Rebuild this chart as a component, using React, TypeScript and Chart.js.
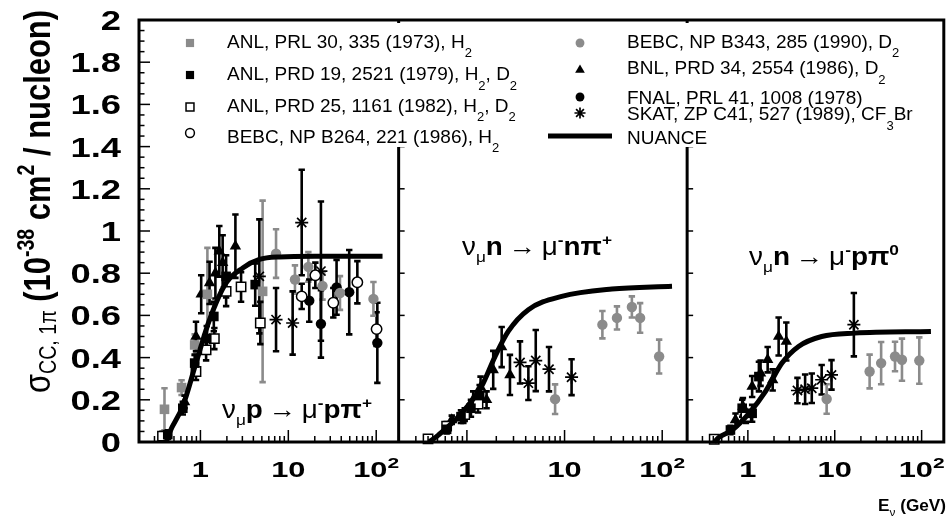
import React, { useEffect, useRef } from 'react';
import { Chart, registerables } from 'chart.js';
import { drawPoint } from 'chart.js/helpers';

Chart.register(...registerables);

const FONT = '"Liberation Sans", Arial, "DejaVu Sans", sans-serif';
const GRAY = '#8b8b8b';

// ---- axes ----
const X_MIN = 0.2;
const X_MAX = 180;
const PANEL_WEIGHTS = [261, 290, 258];
const Y_MIN = 0;
const Y_MAX = 2;
const Y_TICK_VALUES = [0, 0.2, 0.4, 0.6, 0.8, 1, 1.2, 1.4, 1.6, 1.8, 2];
const Y_TICK_LABELS = ['0', '0.2', '0.4', '0.6', '0.8', '1', '1.2', '1.4', '1.6', '1.8', '2'];
const X_TICK_VALUES = [1, 10, 100];
const X_TICK_BASES = ['1', '10', '10'];
const X_TICK_EXPS = ['', '', '2'];

// ---- data: [E_nu (GeV), sigma (1e-38 cm2/nucleon), error] ----
type Pt = [number, number, number];
type Cv = [number, number];

// Panel 1: nu_mu p -> mu- p pi+
const P1_ANL73: Pt[] = [[0.39, 0.155, 0.1], [0.61, 0.258, 0.035], [0.86, 0.46, 0.05], [1.2, 0.7, 0.22], [5.1, 0.714, 0.43]];
const P1_ANL79: Pt[] = [[0.425, 0.035, 0.02], [0.63, 0.16, 0.03], [0.86, 0.374, 0.04], [1.18, 0.49, 0.06], [1.42, 0.595, 0.07], [1.96, 0.785, 0.1], [4.2, 0.746, 0.1]];
const P1_ANL82: Pt[] = [[0.37, 0.028, 0.02], [0.89, 0.334, 0.04], [1.16, 0.437, 0.05], [1.44, 0.49, 0.05], [1.96, 0.714, 0.07], [2.9, 0.735, 0.07], [4.8, 0.564, 0.1]];
const P1_BEBC86: Pt[] = [[14.2, 0.69, 0.06], [20.3, 0.79, 0.06], [32.5, 0.66, 0.07], [61, 0.757, 0.1], [101, 0.535, 0.08]];
const P1_BEBC90: Pt[] = [[7.25, 0.893, 0.115], [11.9, 0.77, 0.067], [16.9, 0.83, 0.07], [24.5, 0.74, 0.065], [38.7, 0.706, 0.08], [93, 0.678, 0.08]];
const P1_BNL: Pt[] = [[0.66, 0.19, 0.03], [0.89, 0.5, 0.07], [1.02, 0.7, 0.09], [1.27, 0.754, 0.1], [1.48, 0.8, 0.12], [1.64, 0.904, 0.12], [1.79, 0.85, 0.13], [2.5, 0.928, 0.15]];
const P1_FNAL: Pt[] = [[17.3, 0.67, 0.1], [23.5, 0.56, 0.16], [35.4, 0.733, 0.13], [49.3, 0.71, 0.2], [103, 0.47, 0.19]];
const P1_SKAT: Pt[] = [[4.68, 0.785, 0.27], [7.25, 0.58, 0.15], [11.2, 0.564, 0.15], [14.2, 1.04, 0.25], [23.5, 0.81, 0.33]];
const P1_NUANCE: Cv[] = [[0.41, 0], [0.44, 0.04], [0.63, 0.17], [0.89, 0.374], [1.27, 0.58], [1.96, 0.754], [3.03, 0.825], [4.68, 0.865], [7.9, 0.877], [20, 0.88], [118, 0.88]];

// Panel 2: nu_mu n -> mu- n pi+
const P2_ANL79: Pt[] = [[0.62, 0.06, 0.02], [0.87, 0.12, 0.03], [1.1, 0.16, 0.04], [1.35, 0.22, 0.05]];
const P2_ANL82: Pt[] = [[0.4, 0.015, 0.015], [0.62, 0.075, 0.02], [0.95, 0.13, 0.03], [1.3, 0.18, 0.04]];
const P2_BNL: Pt[] = [[0.7, 0.105, 0.02], [0.92, 0.12, 0.03], [1.16, 0.2, 0.04], [1.38, 0.26, 0.05], [1.59, 0.2, 0.04], [1.86, 0.342, 0.09], [2.27, 0.45, 0.095], [2.76, 0.318, 0.095]];
const P2_BEBC90: Pt[] = [[8.0, 0.203, 0.07], [24.4, 0.556, 0.065], [34.4, 0.588, 0.055], [48.9, 0.64, 0.05], [59.4, 0.588, 0.07], [93, 0.405, 0.08]];
const P2_SKAT: Pt[] = [[3.5, 0.377, 0.1], [4.26, 0.279, 0.08], [5.07, 0.386, 0.145], [6.93, 0.345, 0.105], [11.8, 0.307, 0.085]];
const P2_NUANCE: Cv[] = [[0.41, 0], [0.51, 0.033], [0.88, 0.136], [1.41, 0.263], [1.94, 0.405], [2.65, 0.524], [4.26, 0.627], [9.35, 0.69], [30.5, 0.725], [126, 0.738]];

// Panel 3: nu_mu n -> mu- p pi0
const P3_ANL79: Pt[] = [[0.63, 0.057, 0.02], [0.86, 0.16, 0.04], [1.12, 0.136, 0.04], [1.34, 0.31, 0.07]];
const P3_ANL82: Pt[] = [[0.41, 0.013, 0.01], [0.95, 0.12, 0.03]];
const P3_BNL: Pt[] = [[0.72, 0.105, 0.03], [0.877, 0.168, 0.04], [1.12, 0.263, 0.05], [1.4, 0.326, 0.06], [1.69, 0.39, 0.06], [1.93, 0.294, 0.05], [2.26, 0.5, 0.09], [2.77, 0.476, 0.09]];
const P3_BEBC90: Pt[] = [[8.07, 0.204, 0.07], [25.2, 0.334, 0.08], [34.2, 0.374, 0.1], [49.4, 0.405, 0.07], [59.4, 0.39, 0.1], [94, 0.386, 0.11]];
const P3_SKAT: Pt[] = [[3.72, 0.244, 0.06], [4.56, 0.25, 0.07], [5.44, 0.255, 0.07], [7.07, 0.295, 0.07], [9.18, 0.318, 0.07], [16.6, 0.556, 0.15]];
const P3_NUANCE: Cv[] = [[0.41, 0], [0.466, 0.022], [0.66, 0.057], [1.03, 0.136], [1.59, 0.239], [2.47, 0.374], [3.83, 0.453], [7.07, 0.5], [17, 0.516], [128, 0.524]];

// ---- series styles & legend ----
type Style = { key: string; label: string; pointStyle: string; radius: number; fill: string; stroke: string; width: number; err: string };
const SERIES: Style[] = [
  { key: 'ANL73', label: 'ANL, PRL 30, 335 (1973), H_{2}', pointStyle: 'rect', radius: 6.8, fill: GRAY, stroke: GRAY, width: 0, err: GRAY },
  { key: 'ANL79', label: 'ANL, PRD 19, 2521 (1979), H_{2}, D_{2}', pointStyle: 'rect', radius: 6.8, fill: '#000', stroke: '#000', width: 0, err: '#000' },
  { key: 'ANL82', label: 'ANL, PRD 25, 1161 (1982), H_{2}, D_{2}', pointStyle: 'rect', radius: 6.6, fill: '#fff', stroke: '#000', width: 1.5, err: '#000' },
  { key: 'BEBC86', label: 'BEBC, NP B264, 221 (1986), H_{2}', pointStyle: 'circle', radius: 5.2, fill: '#fff', stroke: '#000', width: 1.5, err: '#000' },
  { key: 'BEBC90', label: 'BEBC, NP B343, 285 (1990), D_{2}', pointStyle: 'circle', radius: 5.2, fill: GRAY, stroke: GRAY, width: 0, err: GRAY },
  { key: 'BNL', label: 'BNL, PRD 34, 2554 (1986), D_{2}', pointStyle: 'triangle', radius: 6.6, fill: '#000', stroke: '#000', width: 0, err: '#000' },
  { key: 'FNAL', label: 'FNAL, PRL 41, 1008 (1978)', pointStyle: 'circle', radius: 5.2, fill: '#000', stroke: '#000', width: 0, err: '#000' },
  { key: 'SKAT', label: 'SKAT, ZP C41, 527 (1989), CF_{3}Br', pointStyle: 'star', radius: 6.5, fill: '#000', stroke: '#000', width: 1.7, err: '#000' },
];
const NUANCE_LABEL = 'NUANCE';

const PANEL_DATA: Record<string, Pt[]>[] = [
  { ANL73: P1_ANL73, ANL79: P1_ANL79, ANL82: P1_ANL82, BEBC86: P1_BEBC86, BEBC90: P1_BEBC90, BNL: P1_BNL, FNAL: P1_FNAL, SKAT: P1_SKAT },
  { ANL79: P2_ANL79, ANL82: P2_ANL82, BNL: P2_BNL, BEBC90: P2_BEBC90, SKAT: P2_SKAT },
  { ANL79: P3_ANL79, ANL82: P3_ANL82, BNL: P3_BNL, BEBC90: P3_BEBC90, SKAT: P3_SKAT },
];
const PANEL_CURVES: Cv[][] = [P1_NUANCE, P2_NUANCE, P3_NUANCE];
const REACTIONS = [
  { target: 'p', final: 'p', pion: '+' },
  { target: 'n', final: 'n', pion: '+' },
  { target: 'n', final: 'p', pion: '0' },
];

// ---- rich text helpers ----
interface Seg { t: string; size: number; bold?: boolean; dy?: number }
const segFont = (s: Seg) => `${s.bold ? 'bold ' : ''}${s.size}px ${FONT}`;
function measure(ctx: CanvasRenderingContext2D, segs: Seg[]) {
  let w = 0;
  for (const s of segs) { ctx.font = segFont(s); w += ctx.measureText(s.t).width; }
  return w;
}
function drawRich(ctx: CanvasRenderingContext2D, segs: Seg[], x: number, y: number,
  opt: { align?: 'left' | 'center' | 'right'; along?: number; across?: number; width?: number; rotate?: boolean } = {}) {
  ctx.save();
  const nat = measure(ctx, segs);
  ctx.translate(x, y);
  if (opt.rotate) ctx.rotate(-Math.PI / 2);
  const along = opt.width ? opt.width / nat : (opt.along ?? 1);
  ctx.scale(along, opt.across ?? 1);
  let cx = opt.align === 'right' ? -nat : opt.align === 'center' ? -nat / 2 : 0;
  ctx.fillStyle = '#000';
  ctx.textBaseline = 'alphabetic';
  ctx.textAlign = 'left';
  for (const s of segs) {
    ctx.font = segFont(s);
    ctx.fillText(s.t, cx, s.dy ?? 0);
    cx += ctx.measureText(s.t).width;
  }
  ctx.restore();
}
function parseLabel(str: string, size: number, subSize: number, subDy: number): Seg[] {
  const out: Seg[] = [];
  let i = 0, buf = '';
  while (i < str.length) {
    if (str.startsWith('_{', i)) {
      if (buf) { out.push({ t: buf, size }); buf = ''; }
      const j = str.indexOf('}', i);
      out.push({ t: str.slice(i + 2, j), size: subSize, dy: subDy });
      i = j + 1;
    } else { buf += str[i]; i++; }
  }
  if (buf) out.push({ t: buf, size });
  return out;
}

// ---- decoration plugin ----
const decor = {
  id: 'decor',
  beforeDatasetsDraw(chart: any) {
    const ctx: CanvasRenderingContext2D = chart.ctx;
    const ys = chart.scales.y;
    chart.data.datasets.forEach((ds: any) => {
      if (!ds.errors) return;
      const xs = chart.scales[ds.xAxisID];
      ctx.save();
      ctx.strokeStyle = ds.errColor;
      ctx.lineWidth = 2.6;
      ds.data.forEach((p: any, j: number) => {
        const e = ds.errors[j];
        const px = xs.getPixelForValue(p.x);
        const t = ys.getPixelForValue(p.y + e);
        const b = ys.getPixelForValue(Math.max(0, p.y - e));
        ctx.beginPath();
        ctx.moveTo(px, t); ctx.lineTo(px, b);
        ctx.moveTo(px - 3.2, t); ctx.lineTo(px + 3.2, t);
        ctx.moveTo(px - 3.2, b); ctx.lineTo(px + 3.2, b);
        ctx.stroke();
      });
      ctx.restore();
    });
  },
  afterDraw(chart: any) {
    const ctx: CanvasRenderingContext2D = chart.ctx;
    const { left, right, top, bottom } = chart.chartArea;
    const ys = chart.scales.y;
    const xsArr = [chart.scales.x1, chart.scales.x2, chart.scales.x3];
    ctx.save();
    ctx.strokeStyle = '#000';
    // bottom ticks
    ctx.lineWidth = 1.5;
    xsArr.forEach((xs) => {
      for (let k = -1; k <= 2; k++) {
        for (let m = 1; m <= 9; m++) {
          const v = m * Math.pow(10, k);
          if (v < X_MIN * 0.999 || v > X_MAX * 1.001) continue;
          const px = xs.getPixelForValue(v);
          const len = m === 1 ? 12 : 6;
          ctx.beginPath(); ctx.moveTo(px, bottom); ctx.lineTo(px, bottom - len); ctx.stroke();
        }
      }
    });
    // left ticks panel 1
    for (let i = 0; i <= 40; i++) {
      const py = ys.getPixelForValue(i * 0.05);
      const len = i % 4 === 0 ? 11 : 5.5;
      ctx.beginPath(); ctx.moveTo(left, py); ctx.lineTo(left + len, py); ctx.stroke();
    }
    // left ticks of panels 2, 3
    [xsArr[1], xsArr[2]].forEach((xs) => {
      Y_TICK_VALUES.forEach((v) => {
        const py = ys.getPixelForValue(v);
        ctx.beginPath(); ctx.moveTo(xs.left, py); ctx.lineTo(xs.left + 6, py); ctx.stroke();
      });
    });
    // frame + dividers
    ctx.lineWidth = 3;
    ctx.strokeRect(left, top, right - left, bottom - top);
    [xsArr[1], xsArr[2]].forEach((xs) => {
      ctx.beginPath(); ctx.moveTo(xs.left, top); ctx.lineTo(xs.left, bottom); ctx.stroke();
    });
    // legend box
    ctx.fillStyle = '#fff';
    ctx.fillRect(152, top + 3, right - 3 - 152, 147 - top - 3);
    ctx.restore();

    // legend entries
    const leftRows = [43, 75, 107, 133];
    const leftBase = [47.5, 80, 111.5, 142.5];
    const rightRows = [43, 70, 97, 113];
    const rightBase = [47.5, 74, 104, 120];
    SERIES.forEach((s, i) => {
      const isLeft = i < 4;
      const mx = isLeft ? 190 : 580;
      const my = isLeft ? leftRows[i] : rightRows[i - 4];
      const tx = isLeft ? 227 : 627;
      const ty = isLeft ? leftBase[i] : rightBase[i - 4];
      ctx.save();
      ctx.fillStyle = s.fill; ctx.strokeStyle = s.stroke; ctx.lineWidth = s.width || 1;
      drawPoint(ctx, { pointStyle: s.pointStyle as any, radius: s.radius * 0.85, rotation: 0, borderWidth: s.width } as any, mx, my);
      ctx.restore();
      drawRich(ctx, parseLabel(s.label, 19, 13, 9.5), tx, ty, { align: 'left' });
    });
    ctx.save();
    ctx.strokeStyle = '#000'; ctx.lineWidth = 5;
    ctx.beginPath(); ctx.moveTo(548, 136); ctx.lineTo(612, 136); ctx.stroke();
    ctx.restore();
    drawRich(ctx, [{ t: NUANCE_LABEL, size: 19 }], 627, 144, { align: 'left' });

    // y tick labels
    Y_TICK_VALUES.forEach((v, i) => {
      const py = ys.getPixelForValue(v);
      drawRich(ctx, [{ t: Y_TICK_LABELS[i], size: 28, bold: true }], 121, py + 10, { align: 'right', along: 1.3 });
    });
    // x tick labels
    xsArr.forEach((xs) => {
      X_TICK_VALUES.forEach((v, i) => {
        const segs: Seg[] = [{ t: X_TICK_BASES[i], size: 22, bold: true }];
        if (X_TICK_EXPS[i]) segs.push({ t: X_TICK_EXPS[i], size: 15, bold: true, dy: -9 });
        drawRich(ctx, segs, xs.getPixelForValue(v), 477, { align: 'center', along: 1.4 });
      });
    });
    // axis titles
    drawRich(ctx, [
      { t: 'E', size: 16, bold: true },
      { t: 'ν', size: 11, dy: 5 },
      { t: ' (GeV)', size: 16, bold: true },
    ], 946, 511, { align: 'right', width: 68 });
    drawRich(ctx, [
      { t: 'σ', size: 30 },
      { t: 'CC, 1π', size: 19, dy: 5 },
      { t: ' (10', size: 30, bold: true },
      { t: '-38', size: 19, bold: true, dy: -13 },
      { t: ' cm', size: 30, bold: true },
      { t: '2', size: 19, bold: true, dy: -13 },
      { t: ' / nucleon)', size: 30, bold: true },
    ], 50, 393, { align: 'left', rotate: true, width: 383, across: 1.22 });

    // reaction labels
    const starts = [[222, 418], [462, 255], [749, 265]];
    REACTIONS.forEach((r, i) => {
      const S = 25;
      drawRich(ctx, [
        { t: 'ν', size: S },
        { t: 'μ', size: 0.62 * S, dy: 0.28 * S },
        { t: r.target, size: S, bold: true },
        { t: '\u2009→\u2009', size: S },
        { t: 'μ', size: S },
        { t: '-', size: 0.62 * S, bold: true, dy: -0.42 * S },
        { t: r.final, size: S, bold: true },
        { t: 'π', size: S, bold: true },
        { t: r.pion, size: 0.62 * S, bold: true, dy: -0.42 * S },
      ], starts[i][0], starts[i][1], { align: 'left', width: 150 });
    });
  },
};

function buildConfig(): any {
  const datasets: any[] = [];
  PANEL_DATA.forEach((panel, p) => {
    const axis = 'x' + (p + 1);
    datasets.push({
      label: NUANCE_LABEL,
      data: PANEL_CURVES[p].map(([x, y]) => ({ x, y })),
      xAxisID: axis, yAxisID: 'y',
      showLine: true, borderColor: '#000', borderWidth: 5, pointRadius: 0,
      cubicInterpolationMode: 'monotone', fill: false, clip: false, order: 0,
    });
    SERIES.forEach((s) => {
      const pts = panel[s.key];
      if (!pts) return;
      datasets.push({
        label: s.label,
        data: pts.map(([x, y]) => ({ x, y })),
        errors: pts.map((q) => q[2]),
        errColor: s.err,
        xAxisID: axis, yAxisID: 'y',
        showLine: false,
        pointStyle: s.pointStyle, pointRadius: s.radius,
        backgroundColor: s.fill, borderColor: s.stroke, borderWidth: s.width,
        clip: false, order: 1,
      });
    });
  });
  const xScale = (w: number) => ({
    type: 'logarithmic', min: X_MIN, max: X_MAX, position: 'bottom',
    stack: 'xpanels', stackWeight: w, display: false,
  });
  return {
    type: 'scatter',
    data: { datasets },
    options: {
      animation: false,
      responsive: false,
      maintainAspectRatio: false,
      layout: { padding: { left: 139, right: 6, top: 20, bottom: 78 } },
      plugins: { legend: { display: false }, tooltip: { enabled: false } },
      scales: {
        x1: xScale(PANEL_WEIGHTS[0]),
        x2: xScale(PANEL_WEIGHTS[1]),
        x3: xScale(PANEL_WEIGHTS[2]),
        y: { type: 'linear', min: Y_MIN, max: Y_MAX, display: false },
      },
    },
    plugins: [decor],
  };
}

export default function App() {
  const ref = useRef<HTMLCanvasElement>(null);
  useEffect(() => {
    document.body.style.margin = '0';
    const chart = new Chart(ref.current as HTMLCanvasElement, buildConfig());
    return () => chart.destroy();
  }, []);
  return (
    <div style={{ width: 952, height: 520, background: '#fff' }}>
      <canvas ref={ref} width={952} height={520} style={{ display: 'block' }} />
    </div>
  );
}
